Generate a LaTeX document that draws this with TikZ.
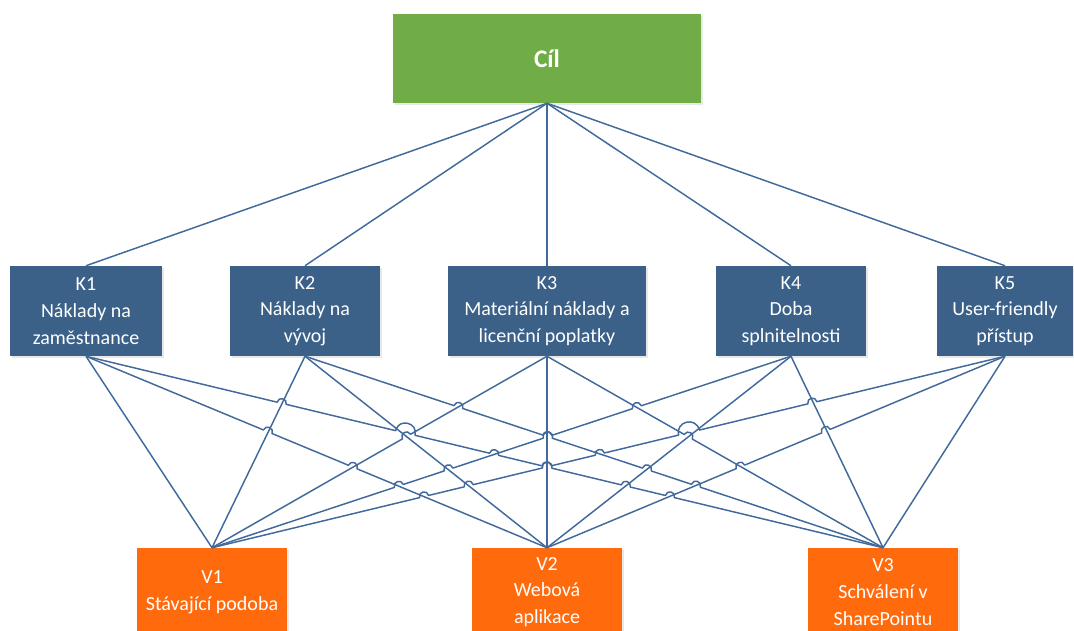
\documentclass[tikz,border=0pt]{standalone}
\usepackage{fontspec}
\setmainfont{Carlito}
\usetikzlibrary{calc,shadows}
\definecolor{goalgreen}{HTML}{70AD47}
\definecolor{critblue}{HTML}{3B6189}
\definecolor{altorange}{HTML}{FF6A0D}
\definecolor{linkblue}{HTML}{41699B}
\newcommand\hopline[4]{%
  \draw[conn] (k#1) foreach \hpos/\hrad in {#4} {
    -- ($(k#1)!\hpos!(v#2)!-\hrad!(v#2)$)
    to[#3=90,looseness=1.7] ($(k#1)!\hpos!(v#2)!\hrad!(v#2)$)
  } -- (v#2);}
\begin{document}
\begin{tikzpicture}[x=0.75pt,y=-0.75pt,
  box/.style={draw=none, inner sep=0pt, align=center, text=white,
    font=\fontsize{15}{20}\selectfont,
    drop shadow={shadow xshift=1.2pt,shadow yshift=-1.2pt,opacity=0.18}},
  goal/.style={box, fill=goalgreen, minimum width=231pt, minimum height=66.75pt,
    font=\fontsize{19}{22}\selectfont\bfseries},
  crit/.style={box, fill=critblue, minimum height=67.5pt},
  alt/.style={box, fill=altorange, minimum width=112.5pt, minimum height=66pt},
  conn/.style={draw=linkblue, line width=1.1pt, line join=round}]
\useasboundingbox (0,0) rectangle (1074,631);
\clip (0,0) rectangle (1074,631);
\node[goal] (C) at (547,58.5) {Cíl};
\node[crit, minimum width=114pt] (K1) at (86,311) {K1\\Náklady na\\zaměstnance};
\node[crit, minimum width=112.5pt] (K2) at (305,311) {K2\\Náklady na\\vývoj};
\node[crit, minimum width=148.5pt] (K3) at (547,311) {K3\\Materiální náklady a\\licenční poplatky};
\node[crit, minimum width=112.5pt] (K4) at (791,311) {K4\\Doba\\splnitelnosti};
\node[crit, minimum width=102pt] (K5) at (1005,311) {K5\\User-friendly\\přístup};
\node[alt] (V1) at (212,592) {V1\\Stávající podoba};
\node[alt] (V2) at (547,592) {V2\\Webová\\aplikace};
\node[alt] (V3) at (883,592) {V3\\Schválení v\\SharePointu};
\foreach \i in {1,...,5} {\coordinate (k\i) at (K\i.south);}
\foreach \j in {1,2,3} {\coordinate (v\j) at (V\j.north);}
\foreach \i in {1,...,5} {\draw[conn] (C.south) -- (K\i.north);}
\foreach \a/\b in {1/1,2/1,2/2,3/2,4/2,4/3,5/3} {\draw[conn] (k\a) -- (v\b);}
\hopline{1}{2}{bend left}{0.3942/3.5pt,0.5786/3.5pt}
\hopline{1}{3}{bend left}{0.2455/3.5pt,0.4007/7.5pt,0.5120/3.5pt,0.5784/3.8pt,0.6773/3.5pt,0.7326/3.5pt}
\hopline{2}{3}{bend left}{0.2654/3.5pt,0.4197/3.7pt,0.5915/3.5pt,0.6763/3.5pt}
\hopline{3}{1}{bend right}{0.4194/3.5pt}
\hopline{3}{3}{bend left}{0.4204/3.5pt}
\hopline{4}{1}{bend right}{0.2662/3.5pt,0.4204/3.5pt,0.5915/3.5pt,0.6773/3.5pt}
\hopline{5}{1}{bend right}{0.2429/3.5pt,0.3985/8pt,0.5109/3.5pt,0.5776/3.5pt,0.6763/3.5pt,0.7326/3.5pt}
\hopline{5}{2}{bend right}{0.3909/3.5pt,0.5776/3.5pt}
\end{tikzpicture}
\end{document}
